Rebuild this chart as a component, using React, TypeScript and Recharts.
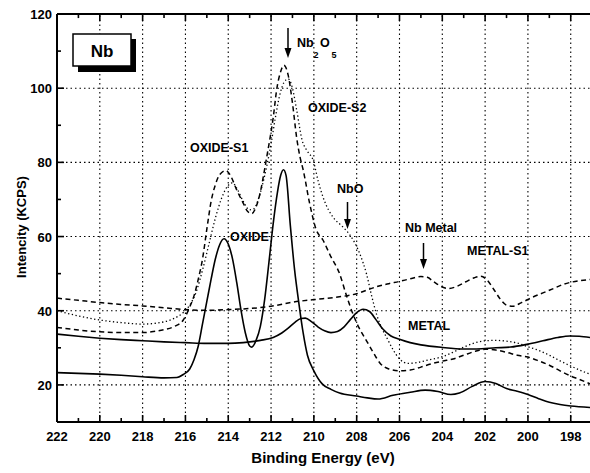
import { LineChart, Line, XAxis, YAxis, ReferenceLine } from "recharts";

// binding energy (eV), intensity (KCPS)
const oxide: [number, number][] = [
  [222, 23.3], [221, 23.1], [220, 22.9], [219, 22.6], [218, 22.2], [217, 21.9],
  [216.4, 22.0], [216.1, 22.8], [215.8, 24.3], [215.6, 26.8], [215.4, 30.5],
  [215.2, 36.5], [215.0, 42.5], [214.8, 48.5], [214.6, 54], [214.4, 57.8],
  [214.2, 59.4], [214.0, 58], [213.8, 54], [213.6, 47.5], [213.4, 40],
  [213.2, 34], [213.0, 30.5], [212.9, 30.2], [212.7, 32], [212.5, 35.8],
  [212.3, 43], [212.1, 53], [211.9, 63.5], [211.7, 72], [211.55, 76.5],
  [211.42, 78], [211.3, 76.5], [211.1, 63], [210.9, 51], [210.7, 42],
  [210.5, 34], [210.3, 28], [210.0, 23.8], [209.6, 20.2], [209.2, 18.8],
  [208.8, 17.8], [208.0, 17.0], [207.5, 16.5], [207.0, 16.2], [206.3, 17.2],
  [205.5, 18.0], [204.8, 18.6], [204.2, 18.2], [203.6, 17.4], [203.2, 17.8],
  [202.6, 19.6], [202.0, 20.9], [201.5, 20.4], [201.0, 19.0], [200.5, 18.3],
  [200.0, 17.4], [199.5, 16.3], [199.0, 15.3], [198.5, 14.7], [198.0, 14.3],
  [197.1, 13.9],
];

const metal: [number, number][] = [
  [222, 33.7], [221, 33.1], [220, 32.6], [219, 32.2], [218, 31.9], [217, 31.6],
  [216, 31.4], [215, 31.2], [214, 31.2], [213.3, 31.4], [212.5, 32],
  [211.9, 32.8], [211.5, 34], [211.2, 35.3], [210.9, 36.8], [210.6, 37.9],
  [210.4, 38], [210.1, 37], [209.8, 35.6], [209.5, 34.6], [209.2, 34.1],
  [208.9, 34.4], [208.6, 35.6], [208.3, 37.6], [208.0, 39.5], [207.7, 40.4],
  [207.4, 39.8], [207.1, 37.6], [206.8, 35.2], [206.4, 33.2], [206.0, 32.3],
  [205.5, 31.4], [205.0, 30.8], [204.0, 30.1], [203.0, 29.7], [202.4, 29.7],
  [201.5, 30], [200.8, 30.2], [200.0, 31], [199.3, 31.9], [198.6, 32.8],
  [198.05, 33.2], [197.6, 33.1], [197.1, 32.8],
];

const oxideS1: [number, number][] = [
  [222, 35.5], [221, 34.8], [220, 34.3], [219, 34.1], [218, 34.1], [217.5, 34.4],
  [217, 34.9], [216.5, 35.8], [216.1, 37.5], [215.8, 41], [215.6, 44],
  [215.4, 48.5], [215.2, 54], [215.0, 62], [214.8, 69.5], [214.6, 74],
  [214.4, 76.7], [214.1, 77.8], [213.9, 76.5], [213.6, 72.5], [213.3, 69],
  [213.1, 66.8], [212.9, 66.2], [212.7, 68], [212.5, 72], [212.35, 76.5],
  [212.2, 81.5], [212.05, 86.5], [211.9, 92], [211.74, 99.5], [211.55, 104.5],
  [211.4, 106.2], [211.2, 103.5], [211.0, 96], [210.8, 86.5], [210.65, 81.5],
  [210.5, 78], [210.2, 69], [209.9, 62], [209.57, 59], [209.2, 54.5],
  [208.8, 50], [208.5, 44.5], [208.2, 39.5], [207.9, 35.5], [207.54, 31.9],
  [207.2, 28.5], [206.9, 25.8], [206.5, 24.3], [206.0, 23.8], [205.5, 24],
  [205.0, 24.8], [204.5, 25.7], [204.0, 26.4], [203.5, 27], [203.0, 28],
  [202.5, 29], [202.0, 29.6], [201.5, 29.4], [201.0, 28.8], [200.5, 28],
  [200.0, 27.5], [199.5, 26.5], [199.0, 25.3], [198.5, 23.8], [198.0, 22.4],
  [197.6, 21.5], [197.1, 20.3],
];

const oxideS2: [number, number][] = [
  [222, 40], [221, 38.6], [220, 37.5], [219, 36.8], [218, 36.4], [217, 37],
  [216.5, 38], [216.1, 39.5], [215.8, 41.5], [215.5, 45], [215.2, 51],
  [214.9, 58], [214.6, 65], [214.3, 70.5], [214.0, 73.8], [213.8, 74.5],
  [213.6, 73], [213.3, 69.5], [213.0, 67.2], [212.8, 67.5], [212.6, 70],
  [212.4, 74], [212.2, 79], [212.0, 85], [211.8, 92], [211.6, 98],
  [211.4, 101.5], [211.2, 102.5], [211.0, 100], [210.8, 94], [210.55, 86],
  [210.3, 83], [210.03, 80.5], [209.8, 75], [209.57, 70.6], [209.3, 67],
  [209.1, 65.2], [208.63, 62.5], [208.3, 60.3], [207.85, 55.3], [207.54, 49.9],
  [207.3, 44], [207.07, 39], [206.8, 35], [206.6, 32.8], [206.3, 29.5],
  [206.0, 27], [205.6, 25.8], [205.2, 26], [204.6, 26.8], [204.0, 27.6],
  [203.5, 28.8], [203.0, 30.2], [202.5, 31.3], [202.0, 31.9], [201.5, 32],
  [201.0, 31.8], [200.5, 31.3], [200.0, 30.3], [199.5, 29.3], [199.0, 28],
  [198.5, 26.5], [198.0, 25.1], [197.5, 23.8], [197.1, 22.9],
];

const metalS1: [number, number][] = [
  [222, 43.4], [221, 42.8], [220, 42.2], [219, 41.7], [218, 41.3], [217, 40.8],
  [216, 40.3], [215, 40.1], [214, 40.3], [213, 40.6], [212, 41.2], [211, 42.3],
  [210, 43.0], [209, 43.6], [208, 44.6], [207.5, 45.6], [207, 46.6],
  [206.5, 47.3], [206, 47.9], [205.5, 48.6], [205.0, 49.2], [204.7, 49.0],
  [204.4, 47.8], [204.0, 46.4], [203.7, 46.0], [203.3, 46.6], [202.9, 47.8],
  [202.5, 48.9], [202.2, 49.3], [201.9, 48.2], [201.6, 45.8], [201.3, 43.2],
  [201.0, 41.5], [200.7, 41.2], [200.3, 42.2], [199.8, 43.6], [199.3, 44.8],
  [198.8, 46], [198.3, 47.2], [197.8, 47.9], [197.1, 48.4],
];

const xTicks = [222, 221, 220, 219, 218, 217, 216, 215, 214, 213, 212, 211, 210,
  209, 208, 207, 206, 205, 204, 203, 202, 201, 200, 199, 198];
const xLabels = [222, 220, 218, 216, 214, 212, 210, 208, 206, 204, 202, 200, 198];
const xGrid = [220, 218, 216, 214, 212, 210, 208, 206, 204, 202, 200, 198];
const yTicks = [10, 20, 30, 40, 50, 60, 70, 80, 90, 100, 110, 120];
const yLabels = [20, 40, 60, 80, 100, 120];
const yGrid = [20, 40, 60, 80, 100];

const pts = (s: [number, number][]) => s.map(([x, y]) => ({ x, y }));

const FONT = "'Liberation Sans', Arial, sans-serif";

function BottomTick({ x, y, payload }: any) {
  const major = xLabels.includes(payload.value);
  return (
    <g>
      <line x1={x} x2={x} y1={y} y2={y - (major ? 7 : 4)} stroke="#000" strokeWidth={1.6} />
      {major && (
        <text x={x} y={y + 19} textAnchor="middle" fontSize={13} fontWeight="bold" fontFamily={FONT} fill="#000">
          {payload.value}
        </text>
      )}
    </g>
  );
}

function LeftTick({ x, y, payload }: any) {
  const major = yLabels.includes(payload.value);
  return (
    <g>
      <line x1={x} x2={x + (major ? 7 : 4)} y1={y} y2={y} stroke="#000" strokeWidth={1.6} />
      {major && (
        <text x={x - 5} y={y + 5} textAnchor="end" fontSize={13} fontWeight="bold" fontFamily={FONT} fill="#000">
          {payload.value}
        </text>
      )}
    </g>
  );
}

const lbl = { fontFamily: FONT, fontWeight: "bold" as const, fontSize: 12.5, fill: "#000" };

export default function App() {
  return (
    <div style={{ position: "absolute", left: 0, top: 0, width: 590, height: 473, background: "#fff" }}>
      <LineChart width={590} height={473} margin={{ top: 14, right: 0, bottom: 0, left: 12 }}>
        <XAxis
          type="number"
          dataKey="x"
          domain={[197.1, 222]}
          reversed
          allowDataOverflow
          ticks={xTicks}
          interval={0}
          tickSize={0}
          tickMargin={0}
          tick={<BottomTick />}
          height={51}
          axisLine={{ stroke: "#000", strokeWidth: 2 }}
        />
        <YAxis
          type="number"
          domain={[10, 120]}
          allowDataOverflow
          ticks={yTicks}
          interval={0}
          tickSize={0}
          tickMargin={0}
          tick={<LeftTick />}
          width={45}
          axisLine={{ stroke: "#000", strokeWidth: 2 }}
        />
        {xGrid.map((v) => (
          <ReferenceLine key={"gx" + v} x={v} stroke="#000" strokeWidth={1.1} strokeDasharray="1.5 3" />
        ))}
        {yGrid.map((v) => (
          <ReferenceLine key={"gy" + v} y={v} stroke="#000" strokeWidth={1.1} strokeDasharray="1.5 3" />
        ))}
        {/* top frame with inward ticks */}
        <ReferenceLine y={120} stroke="#000" strokeWidth={2} />
        {xTicks.map((v) => (
          <ReferenceLine
            key={"tt" + v}
            segment={[{ x: v, y: 120 }, { x: v, y: xLabels.includes(v) ? 118.1 : 118.9 }]}
            stroke="#000"
            strokeWidth={1.6}
          />
        ))}
        <Line data={pts(oxide)} dataKey="y" type="monotone" stroke="#000" strokeWidth={1.6} dot={false} isAnimationActive={false} />
        <Line data={pts(metal)} dataKey="y" type="monotone" stroke="#000" strokeWidth={1.6} dot={false} isAnimationActive={false} />
        <Line data={pts(oxideS1)} dataKey="y" type="monotone" stroke="#000" strokeWidth={1.5} strokeDasharray="5 3.5" dot={false} isAnimationActive={false} />
        <Line data={pts(metalS1)} dataKey="y" type="monotone" stroke="#000" strokeWidth={1.5} strokeDasharray="5 3.5" dot={false} isAnimationActive={false} />
        <Line data={pts(oxideS2)} dataKey="y" type="monotone" stroke="#000" strokeWidth={1.3} strokeDasharray="1.3 2.5" dot={false} isAnimationActive={false} />
      </LineChart>

      <svg width={590} height={473} style={{ position: "absolute", left: 0, top: 0, pointerEvents: "none" }}>
        {/* Nb box */}
        <rect x={78} y={39} width={58} height={33} fill="#000" />
        <rect x={73} y={34} width={58} height={32} fill="#fff" stroke="#000" strokeWidth={1.5} />
        <text x={102} y={57} textAnchor="middle" fontFamily={FONT} fontWeight="bold" fontSize={17} fill="#000">Nb</text>

        {/* arrows */}
        <line x1={288} x2={288} y1={28} y2={50} stroke="#000" strokeWidth={1.5} />
        <polygon points="284.5,48 291.5,48 288,58" fill="#000" />
        <line x1={347.5} x2={347.5} y1={202} y2={221} stroke="#000" strokeWidth={1.5} />
        <polygon points="344,219 351,219 347.5,229" fill="#000" />
        <line x1={423.5} x2={423.5} y1={243} y2={261} stroke="#000" strokeWidth={1.5} />
        <polygon points="420,259 427,259 423.5,269" fill="#000" />

        <text x={297} y={47} {...lbl}>Nb</text>
        <text x={320} y={47} {...lbl}>O</text>
        <text x={316} y={58} textAnchor="middle" {...lbl} fontSize={9}>2</text>
        <text x={334} y={58} textAnchor="middle" {...lbl} fontSize={9}>5</text>

        <text x={308} y={112} {...lbl}>OXIDE-S2</text>
        <text x={190} y={152} {...lbl}>OXIDE-S1</text>
        <text x={230} y={241} {...lbl}>OXIDE</text>
        <text x={337} y={193} {...lbl}>NbO</text>
        <text x={405} y={232} {...lbl}>Nb Metal</text>
        <text x={467} y={255} {...lbl}>METAL-S1</text>
        <text x={408} y={330} {...lbl}>METAL</text>

        <text x={323} y={463} textAnchor="middle" fontFamily={FONT} fontWeight="bold" fontSize={15} fill="#000">
          Binding Energy (eV)
        </text>
        <text
          x={26}
          y={227}
          textAnchor="middle"
          transform="rotate(-90 26 227)"
          fontFamily={FONT}
          fontWeight="bold"
          fontSize={13}
          fill="#000"
        >
          Intencity (KCPS)
        </text>
      </svg>
    </div>
  );
}
